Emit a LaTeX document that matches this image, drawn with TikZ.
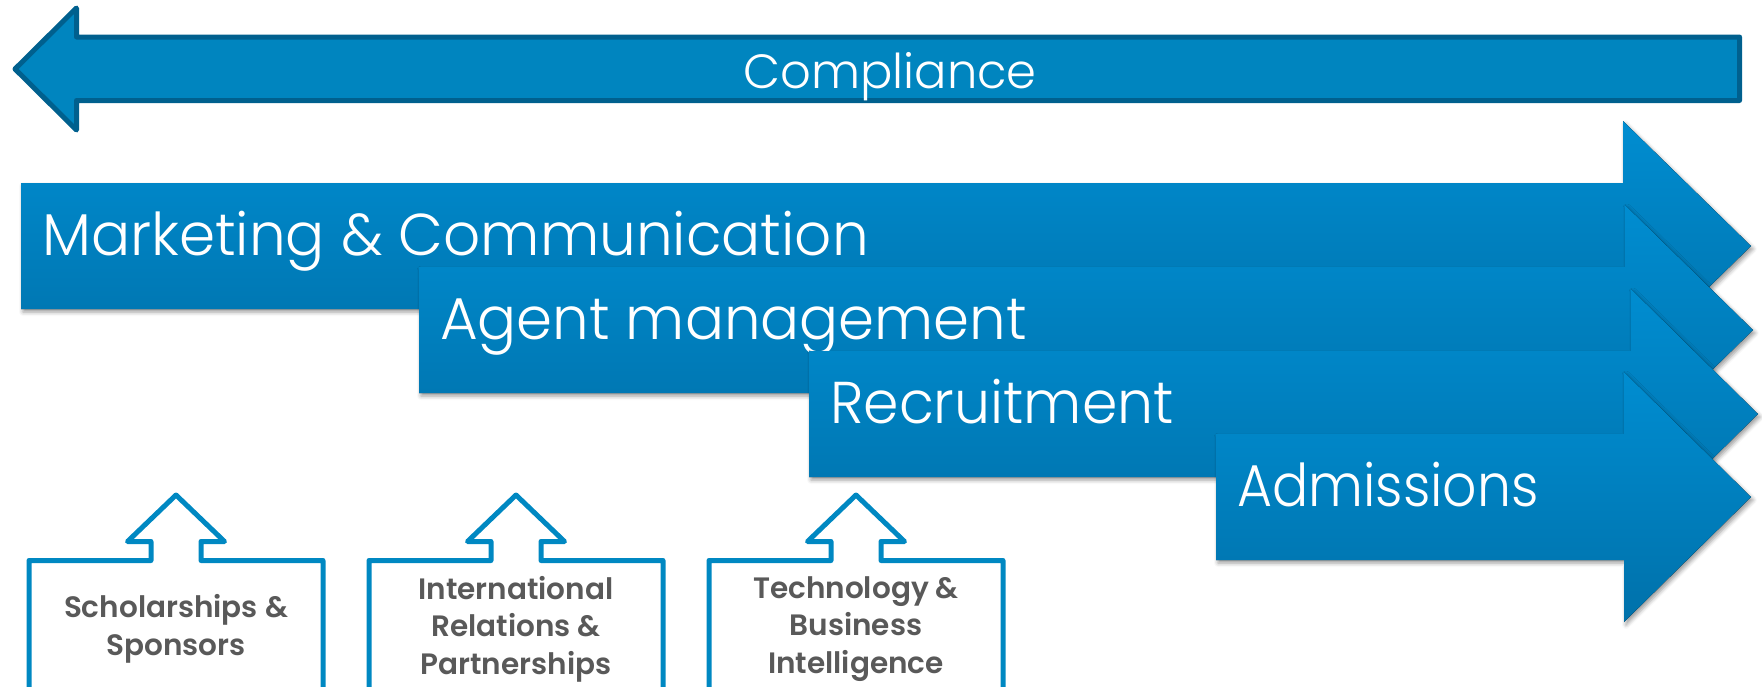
\documentclass[tikz,border=0pt]{standalone}
\usepackage{fontspec}
\setmainfont{Poppins}
\newfontfamily\lightfont{Poppins Light}
\newfontfamily\semifont{Poppins SemiBold}
\usetikzlibrary{shadows.blur}
\definecolor{arrTop}{HTML}{008DD1}
\definecolor{arrBot}{HTML}{0071AA}
\definecolor{compFill}{HTML}{0085BF}
\definecolor{compLine}{HTML}{00608E}
\definecolor{boxLine}{HTML}{0088C2}
\definecolor{boxText}{HTML}{595959}
\newcommand\MyArrow[4]{% left, top, head back, tip
  \fill[bigarrow] (#1,#2) -- (#3,#2) -- (#3,#2-62) -- (#4,#2+63) -- (#3,#2+188)
    -- (#3,#2+126) -- (#1,#2+126) -- cycle;}
\newcommand\MyCallout[1]{% centre x
  \draw[callout] (#1-147,700) -- (#1-147,560.5) -- (#1-25,560.5) -- (#1-25,541.5)
    -- (#1-48.5,541.5) -- (#1,495) -- (#1+48.5,541.5) -- (#1+25,541.5)
    -- (#1+25,560.5) -- (#1+147,560.5) -- (#1+147,700);}
\begin{document}
\begin{tikzpicture}[x=1pt,y=-1pt,
  bigarrow/.style={top color=arrTop, bottom color=arrBot,
    blur shadow={shadow xshift=2pt, shadow yshift=-3pt, shadow blur radius=4pt, shadow opacity=40}},
  biglabel/.style={anchor=base west, text=white, inner sep=0pt,
    font=\lightfont\fontsize{59}{59}\selectfont},
  callout/.style={draw=boxLine, line width=5pt, line join=round, fill=white},
  boxlabel/.style={align=center, text=boxText, inner sep=0pt,
    font=\semifont\fontsize{29.5}{37.5}\selectfont}]
\useasboundingbox (0,0) rectangle (1762,686);
\clip (0,0) rectangle (1762,686);
% compliance arrow
\draw[fill=compFill, draw=compLine, line width=5pt, line join=round]
  (15,69) -- (76.5,8) -- (76.5,37) -- (1739.5,37) -- (1739.5,100.5)
  -- (76.5,100.5) -- (76.5,130) -- cycle;
\node[anchor=base, text=white, inner sep=0pt, font=\lightfont\fontsize{48}{48}\selectfont]
  (compliance) at (890,88) {Compliance};
% process arrows
\MyArrow{21}{183}{1623}{1751}
\node[biglabel] (marketing) at (42,255) {\scalebox{0.984}[1]{Marketing \& Communication}};
\MyArrow{419}{267}{1625}{1753}
\node[biglabel] (agent) at (440,339) {\scalebox{0.98}[1]{Agent management}};
\MyArrow{809}{351}{1631}{1758}
\node[biglabel] (recruitment) at (830,423) {\scalebox{0.965}[1]{Recruitment}};
\MyArrow{1216}{434}{1624}{1751}
\node[biglabel] (admissions) at (1237,506) {\scalebox{0.91}[1]{Admissions}};
% supporting callouts
\MyCallout{176}
\node[boxlabel] (scholar) at (176,629) {Scholarships \&\\Sponsors};
\MyCallout{516}
\node[boxlabel] (intl) at (516,629) {International\\Relations \&\\Partnerships};
\MyCallout{856}
\node[boxlabel] (tech) at (856,629) {Technology \&\\Business\\Intelligence};
\end{tikzpicture}
\end{document}
